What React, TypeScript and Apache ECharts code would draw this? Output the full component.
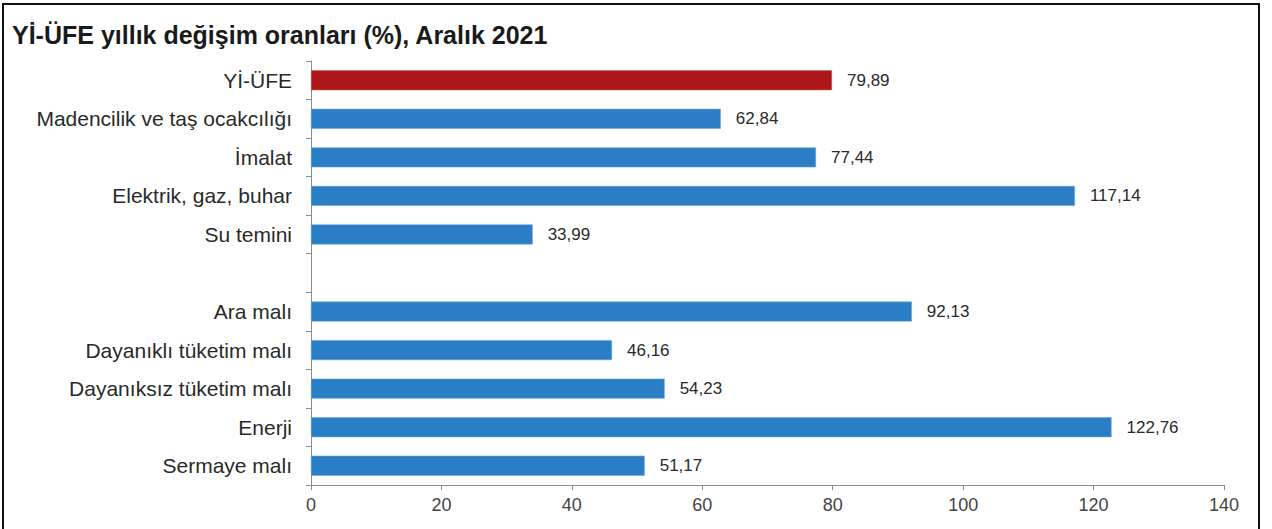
import React, { useEffect, useRef } from "react";
import * as echarts from "echarts";

const title = "Yİ-ÜFE yıllık değişim oranları (%), Aralık 2021";
const categories = [
  "Yİ-ÜFE",
  "Madencilik ve taş ocakcılığı",
  "İmalat",
  "Elektrik, gaz, buhar",
  "Su temini",
  "",
  "Ara malı",
  "Dayanıklı tüketim malı",
  "Dayanıksız tüketim malı",
  "Enerji",
  "Sermaye malı",
];
const values: (number | null)[] = [79.89, 62.84, 77.44, 117.14, 33.99, null, 92.13, 46.16, 54.23, 122.76, 51.17];
const xTicks = { min: 0, max: 140, interval: 20 };

const RED = "#AE1719";
const BLUE = "#2A7EC5";

export default function App() {
  const ref = useRef<HTMLDivElement>(null);
  useEffect(() => {
    if (!ref.current) return;
    const chart = echarts.init(ref.current, undefined, { renderer: "svg" });
    const font = "'Liberation Sans', Arial, sans-serif";
    chart.setOption({
      animation: false,
      backgroundColor: "#ffffff",
      textStyle: { fontFamily: font },
      graphic: [
        {
          type: "rect",
          shape: { x: 3, y: 4, width: 1256, height: 530 },
          style: { fill: "none", stroke: "#111", lineWidth: 2 },
          silent: true,
        },
        {
          type: "text",
          left: 12,
          top: 22,
          style: {
            text: title,
            font: `bold 25px ${font}`,
            fill: "#1a1a1a",
          },
        },
      ],
      grid: { left: 311, right: 48, top: 61, bottom: 44, containLabel: false },
      xAxis: {
        type: "value",
        min: xTicks.min,
        max: xTicks.max,
        interval: xTicks.interval,
        axisLine: { show: true, lineStyle: { color: "#8c8c8c", width: 1 } },
        axisTick: { show: true, length: 5, lineStyle: { color: "#8c8c8c" } },
        splitLine: { show: false },
        axisLabel: { color: "#444", fontSize: 18, margin: 11, fontFamily: font },
      },
      yAxis: {
        type: "category",
        inverse: true,
        data: categories,
        axisLine: { show: true, lineStyle: { color: "#8c8c8c", width: 1 } },
        axisTick: { show: true, length: 5, alignWithLabel: false, lineStyle: { color: "#8c8c8c" } },
        axisLabel: { color: "#2a2a2a", fontSize: 21, margin: 19, fontFamily: font },
      },
      series: [
        {
          type: "bar",
          barWidth: 20,
          data: values.map((v, i) => ({
            value: v,
            itemStyle: {
              color: i === 0 ? RED : BLUE,
              borderColor: i === 0 ? "#c9595b" : "#6aa5d8",
              borderWidth: 0.6,
            },
          })),
          label: {
            show: true,
            position: "right",
            distance: 15,
            color: "#2a2a2a",
            fontSize: 17,
            fontFamily: font,
            formatter: (p: any) =>
              p.value == null ? "" : Number(p.value).toFixed(2).replace(".", ","),
          },
        },
      ],
    });
    return () => chart.dispose();
  }, []);
  return (
    <div
      ref={ref}
      style={{ position: "fixed", left: 0, top: 0, width: 1272, height: 529 }}
    />
  );
}
